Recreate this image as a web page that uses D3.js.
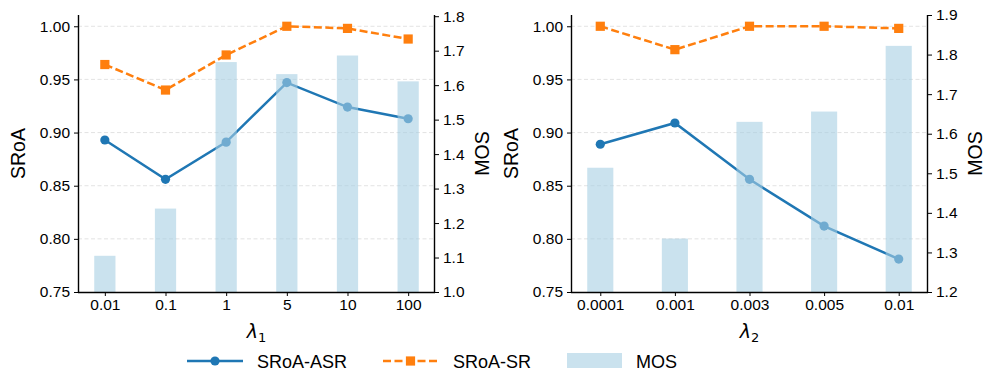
<!DOCTYPE html>
<html>
<head>
<meta charset="utf-8">
<script src="https://cdn.jsdelivr.net/npm/d3@7"></script>
<style>
  body { margin: 0; background: #fff; }
  svg { font-family: "Liberation Sans", Arial, Helvetica, sans-serif; }
</style>
</head>
<body>
<svg id="chart" width="997" height="392"></svg>
<script>
// ---- Data ----
const lambda1Labels = ["0.01", "0.1", "1", "5", "10", "100"];
const asr1 = [0.893, 0.856, 0.891, 0.947, 0.924, 0.913];
const sr1 = [0.964, 0.940, 0.973, 1.000, 0.998, 0.988];
const mos1 = [1.105, 1.242, 1.667, 1.632, 1.686, 1.611];

const lambda2Labels = ["0.0001", "0.001", "0.003", "0.005", "0.01"];
const asr2 = [0.889, 0.909, 0.856, 0.812, 0.781];
const sr2 = [1.000, 0.978, 1.000, 1.000, 0.998];
const mos2 = [1.514, 1.335, 1.630, 1.656, 1.822];

const sroaTicks = [0.75, 0.80, 0.85, 0.90, 0.95, 1.00];
const mosTicks1 = [1.0, 1.1, 1.2, 1.3, 1.4, 1.5, 1.6, 1.7, 1.8];
const mosTicks2 = [1.2, 1.3, 1.4, 1.5, 1.6, 1.7, 1.8, 1.9];

const legendLabels = ["SRoA-ASR", "SRoA-SR", "MOS"];

const svg = d3.select("#chart");
const BLUE = "#1f77b4", ORANGE = "#ff7f0e", BAR = "#a6cee3";
const TICK_FS = 15.5, LABEL_FS = 19.5, LW = 2.5;

function panel(opts) {
  const { x0, x1, labels, asr, sr, mos, mosDomain, mosTicks, sub } = opts;
  const top = 15, bottom = 292;
  const n = labels.length;
  const pad = 0.175 + (n - 1 + 0.35) * 0.05;
  const x = d3.scaleLinear().domain([-pad, n - 1 + pad]).range([x0, x1]);
  const y = d3.scaleLinear().domain([0.75, 1.0106]).range([bottom, top]);
  const y2 = d3.scaleLinear().domain(mosDomain).range([bottom, top]);
  const g = svg.append("g");

  // grid
  g.append("g").selectAll("line").data(sroaTicks.filter(t => t > 0.75))
    .join("line")
    .attr("x1", x0).attr("x2", x1)
    .attr("y1", d => y(d)).attr("y2", d => y(d))
    .attr("stroke", "#dcdcdc").attr("stroke-width", 0.8)
    .attr("stroke-dasharray", "4,2.5");

  // ASR line
  const line = d3.line().x((d, i) => x(i)).y(d => y(d));
  g.append("path").datum(asr).attr("d", line)
    .attr("fill", "none").attr("stroke", BLUE).attr("stroke-width", LW);
  g.append("g").selectAll("circle").data(asr).join("circle")
    .attr("cx", (d, i) => x(i)).attr("cy", d => y(d)).attr("r", 4.6)
    .attr("fill", BLUE);

  // SR line
  g.append("path").datum(sr).attr("d", line)
    .attr("fill", "none").attr("stroke", ORANGE).attr("stroke-width", LW)
    .attr("stroke-dasharray", "8,3.5");
  g.append("g").selectAll("rect").data(sr).join("rect")
    .attr("x", (d, i) => x(i) - 4.6).attr("y", d => y(d) - 4.6)
    .attr("width", 9.2).attr("height", 9.2).attr("fill", ORANGE);

  // Bars (twin axis, drawn on top with alpha)
  const bw = x(0.35) - x(0);
  g.append("g").selectAll("rect").data(mos).join("rect")
    .attr("x", (d, i) => x(i) - bw / 2).attr("width", bw)
    .attr("y", d => y2(d)).attr("height", d => bottom - y2(d))
    .attr("fill", BAR).attr("fill-opacity", 0.6);

  // Axes
  const xAxis = d3.axisBottom(x).tickValues(d3.range(n))
    .tickFormat(i => labels[i]).tickSizeOuter(0).tickSize(4).tickPadding(3);
  const gx = g.append("g").attr("transform", `translate(0,${bottom})`).call(xAxis);
  gx.select(".domain").attr("d", `M${x0},0.5H${x1}`);

  const yAxis = d3.axisLeft(y).tickValues(sroaTicks).tickFormat(d3.format(".2f"))
    .tickSizeOuter(0).tickSize(4).tickPadding(4);
  const gy = g.append("g").attr("transform", `translate(${x0},0)`).call(yAxis);
  gy.select(".domain").attr("d", `M0.5,${top}V${bottom}`);

  const y2Axis = d3.axisRight(y2).tickValues(mosTicks).tickFormat(d3.format(".1f"))
    .tickSizeOuter(0).tickSize(4).tickPadding(4);
  const gy2 = g.append("g").attr("transform", `translate(${x1},0)`).call(y2Axis);
  gy2.select(".domain").attr("d", `M-0.5,${top}V${bottom}`);

  [gx, gy, gy2].forEach(a => {
    a.selectAll("text").attr("font-size", TICK_FS).attr("fill", "#000")
      .attr("font-family", "Liberation Sans, Arial, sans-serif");
    a.selectAll("line").attr("stroke", "#000").attr("stroke-width", 1);
    a.select(".domain").attr("stroke", "#000").attr("stroke-width", 1.4);
  });

  // Axis labels
  const xl = g.append("text").attr("x", (x0 + x1) / 2).attr("y", 338)
    .attr("text-anchor", "middle").attr("font-size", 19)
    .attr("font-family", "DejaVu Sans, sans-serif");
  xl.append("tspan").attr("font-style", "italic").text("λ");
  xl.append("tspan").attr("font-size", 13).attr("dy", 4).text(sub);

  g.append("text").attr("transform", `translate(${x0 - 53},${(top + bottom) / 2}) rotate(-90)`)
    .attr("text-anchor", "middle").attr("font-size", LABEL_FS).text("SRoA");
  g.append("text").attr("transform", `translate(${x1 + 54},${(top + bottom) / 2}) rotate(-90)`)
    .attr("text-anchor", "middle").attr("font-size", LABEL_FS).text("MOS");
}

panel({ x0: 78, x1: 435, labels: lambda1Labels, asr: asr1, sr: sr1, mos: mos1,
  mosDomain: [1.0, 1.8035], mosTicks: mosTicks1, sub: "1" });
panel({ x0: 571, x1: 928, labels: lambda2Labels, asr: asr2, sr: sr2, mos: mos2,
  mosDomain: [1.2, 1.9], mosTicks: mosTicks2, sub: "2" });

// Legend
const lg = svg.append("g");
const ly = 361;
// ASR
lg.append("line").attr("x1", 187).attr("x2", 243).attr("y1", ly).attr("y2", ly)
  .attr("stroke", BLUE).attr("stroke-width", LW);
lg.append("circle").attr("cx", 215).attr("cy", ly).attr("r", 4.6).attr("fill", BLUE);
lg.append("text").attr("x", 257).attr("y", ly + 6.5).attr("font-size", 18).text(legendLabels[0]);
// SR
lg.append("line").attr("x1", 383).attr("x2", 438).attr("y1", ly).attr("y2", ly)
  .attr("stroke", ORANGE).attr("stroke-width", LW).attr("stroke-dasharray", "8,3.5");
lg.append("rect").attr("x", 410.5 - 4.6).attr("y", ly - 4.6).attr("width", 9.2).attr("height", 9.2)
  .attr("fill", ORANGE);
lg.append("text").attr("x", 453).attr("y", ly + 6.5).attr("font-size", 18).text(legendLabels[1]);
// MOS
lg.append("rect").attr("x", 567).attr("y", 353).attr("width", 55).attr("height", 15)
  .attr("fill", BAR).attr("fill-opacity", 0.6);
lg.append("text").attr("x", 636).attr("y", ly + 6.5).attr("font-size", 18).text(legendLabels[2]);
</script>
</body>
</html>
